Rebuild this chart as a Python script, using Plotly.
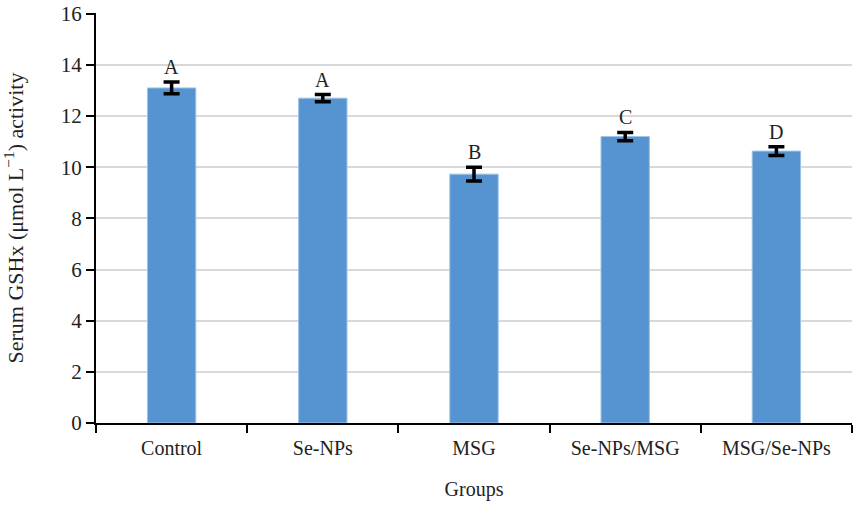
import plotly.graph_objects as go

# --- datos ---
groups = ["Control", "Se-NPs", "MSG", "Se-NPs/MSG", "MSG/Se-NPs"]
gshx = [13.1, 12.7, 9.73, 11.2, 10.63]
sem = [0.23, 0.14, 0.27, 0.16, 0.17]
letters = ["A", "A", "B", "C", "D"]

BAR_COLOR = "#5694D1"
FONT = "Liberation Serif"
TXT = "#222222"

fig = go.Figure()
fig.add_trace(go.Bar(
    x=groups, y=gshx,
    marker=dict(color=BAR_COLOR, line=dict(color="#9dc3e6", width=1)),
    error_y=dict(type="data", array=sem, color="black", thickness=3.5, width=8),
    width=0.32,
))

# letras de significancia encima de cada barra
for g, v, e, lt in zip(groups, gshx, sem, letters):
    fig.add_annotation(x=g, y=v + e, text=lt, showarrow=False,
                       yanchor="bottom", yshift=2,
                       font=dict(family=FONT, size=20, color=TXT))

fig.update_layout(
    width=861, height=506,
    paper_bgcolor="white", plot_bgcolor="white",
    font=dict(family=FONT, size=21, color=TXT),
    margin=dict(l=96, r=9, t=13, b=83, autoexpand=False),
    showlegend=False,
)
fig.update_xaxes(
    title=dict(text="Groups", standoff=24, font=dict(family=FONT, size=20, color=TXT)),
    tickfont=dict(family=FONT, size=20, color=TXT),
    showline=True, linecolor="black", linewidth=2,
    ticks="outside", tickson="boundaries", ticklen=8, tickwidth=2, tickcolor="black",
    ticklabelstandoff=6,
    showgrid=False, range=[-0.5, 4.5], automargin=False,
)
fig.update_yaxes(
    title=dict(text="Serum GSHx (μmol L<sup>−1</sup>) activity", standoff=38,
               font=dict(family=FONT, size=22, color=TXT)),
    tickfont=dict(family=FONT, size=21, color=TXT),
    range=[0, 16.03], tickvals=[0, 2, 4, 6, 8, 10, 12, 14, 16],
    ticklabeloverflow="allow",
    showline=True, linecolor="black", linewidth=2,
    ticks="outside", ticklen=8, tickwidth=2, tickcolor="black",
    showgrid=True, gridcolor="#d9d9d9", gridwidth=1.5,
    zeroline=False, automargin=False,
)

# quitar el margen por defecto del body y la barra de herramientas
fig.write_html("out.html", config={"displayModeBar": False},
               post_script="document.body.style.margin='0';")
